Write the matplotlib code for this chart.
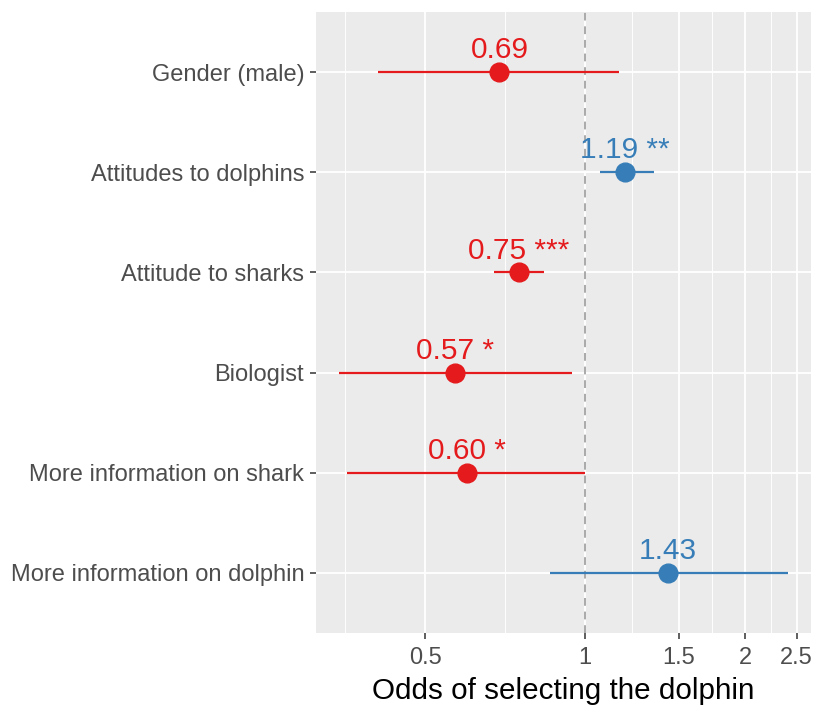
import numpy as np
import matplotlib.pyplot as plt
from matplotlib.ticker import FixedLocator, NullFormatter

plt.rcParams['font.family'] = ['Liberation Sans', 'DejaVu Sans']

# Data (top to bottom as shown)
predictors = ["Gender (male)", "Attitudes to dolphins", "Attitude to sharks",
              "Biologist", "More information on shark", "More information on dolphin"]
odds = [0.69, 1.19, 0.75, 0.57, 0.60, 1.43]
ci_low = [0.408, 1.066, 0.673, 0.344, 0.357, 0.858]
ci_high = [1.159, 1.347, 0.837, 0.946, 1.0, 2.41]
stars = ["", "**", "***", "*", "*", ""]

red = "#E41A1C"
blue = "#377EB8"

fig = plt.figure(figsize=(8.16, 7.09), dpi=100)
ax = fig.add_axes([0.3873, 0.1072, 0.6066, 0.8759])
ax.set_facecolor("#EBEBEB")
for s in ax.spines.values():
    s.set_visible(False)

ax.set_xscale("log")
ax.set_xlim(0.3118, 2.662)
ax.set_ylim(0.4, 6.6)

major = [0.5, 1, 1.5, 2, 2.5]
logs = np.log(major)
minor = list(np.exp([logs[0] - (logs[1] - logs[0]) / 2] + list((logs[:-1] + logs[1:]) / 2)))
ax.xaxis.set_major_locator(FixedLocator(major))
ax.xaxis.set_minor_locator(FixedLocator(minor))
ax.xaxis.set_minor_formatter(NullFormatter())
ax.set_xticklabels(["0.5", "1", "1.5", "2", "2.5"])

ypos = np.arange(len(predictors))[::-1] + 1
ax.set_yticks(ypos)
ax.set_yticklabels(predictors)

ax.grid(True, which="major", color="white", lw=1.3)
ax.grid(True, which="minor", axis="x", color="white", lw=0.65)
ax.set_axisbelow(True)
ax.tick_params(which="major", length=4.5, width=1.1, color="#333333",
               labelcolor="#4D4D4D", labelsize=17)
ax.tick_params(axis="x", pad=5.5)
ax.tick_params(axis="y", pad=4)
ax.tick_params(which="minor", length=0)

ax.axvline(1, color="#A9A9A9", ls=(0, (4, 3)), lw=1.4, zorder=1)

for y, o, lo, hi, st in zip(ypos, odds, ci_low, ci_high, stars):
    c = red if o < 1 else blue
    ax.plot([lo, hi], [y, y], color=c, lw=1.6, zorder=3, solid_capstyle="butt")
    ax.plot(o, y, "o", color=c, ms=13.5, zorder=4)
    label = f"{o:.2f}" + (f" {st}" if st else "")
    ax.annotate(label, (o, y), xytext=(0, 10), textcoords="offset points",
                ha="center", va="baseline", color=c, fontsize=21.5)

ax.set_xlabel("Odds of selecting the dolphin", fontsize=21.3, color="black", labelpad=6)

fig.savefig("out.png", dpi=100)
